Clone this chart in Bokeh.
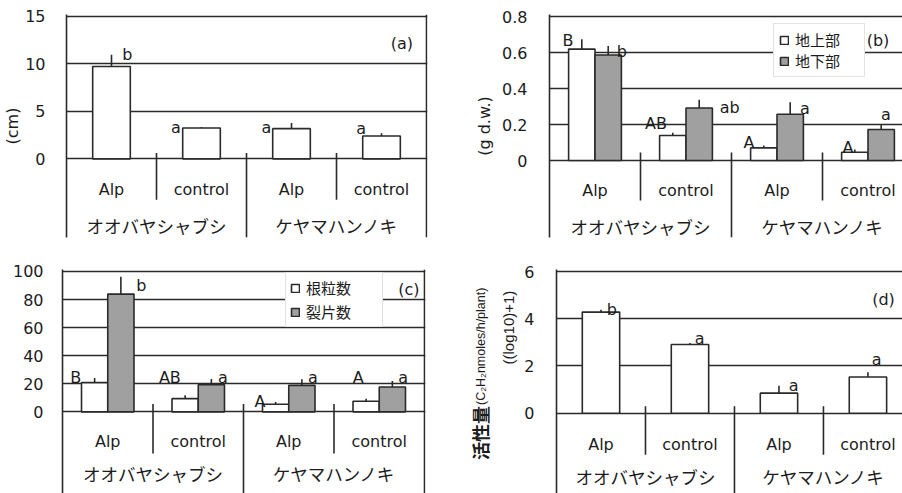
import numpy as np
from bokeh.plotting import figure
from bokeh.layouts import row, column
from bokeh.models import Range1d, FixedTicker, Span, Legend, LegendItem, Label
from bokeh.core.properties import value
from bokeh.embed import file_html
from bokeh.resources import INLINE

# ---------------- data ----------------
species = ["オオバヤシャブシ", "ケヤマハンノキ"]
treatments = ["Alp", "control", "Alp", "control"]

# (a) height (cm)
height_cm = [9.73, 3.25, 3.18, 2.41]
height_err = [1.25, 0.10, 0.60, 0.30]
height_letters = ["b", "a", "a", "a"]
height_ticks = [0, 5, 10, 15]

# (b) dry weight (g d.w.)
dw_series = ["地上部", "地下部"]
dw_shoot = [0.619, 0.139, 0.070, 0.046]
dw_shoot_err = [0.055, 0.015, 0.013, 0.015]
dw_shoot_letters = ["B", "AB", "A", "A"]
dw_root = [0.586, 0.292, 0.257, 0.172]
dw_root_err = [0.050, 0.046, 0.066, 0.030]
dw_root_letters = ["b", "ab", "a", "a"]
dw_ticks = [0, 0.2, 0.4, 0.6, 0.8]

# (c) counts
count_series = ["根粒数", "裂片数"]
nodule_n = [20.8, 9.4, 5.4, 7.6]
nodule_err = [3.3, 2.4, 1.7, 1.8]
nodule_letters = ["B", "AB", "A", "A"]
lobe_n = [83.9, 19.4, 18.9, 17.7]
lobe_err = [12.3, 4.0, 4.3, 4.3]
lobe_letters = ["b", "a", "a", "a"]
count_ticks = [0, 20, 40, 60, 80, 100]

# (d) activity
activity = [4.28, 2.91, 0.85, 1.53]
activity_err = [0.10, 0.06, 0.31, 0.20]
activity_letters = ["b", "a", "a", "a"]
activity_ticks = [0, 2, 4, 6]
activity_label = ["活性量", "(C₂H₂nmoles/h/plant)", "((log10)+1)"]

# ---------------- style / layout ----------------
INK = "#2a2a2a"
TXT = "#1c1c1c"
GRAY = "#a0a0a0"
LW = 1.6
LATIN = "DejaVu Sans"
CJK = "Noto Sans CJK JP"

# panel geometry (pixels inside each figure; ox/oy = figure origin on the page)
PA = dict(ox=0, oy=0, w=455, h=250, fl=62, fr=427, cat=91.0, ymax_px=15, zero=158, fb=237,
          row1=31, row2=66.5, sep_top=6, sep_bot=41, tick_sd=15, lab_sd=0, right_line=True)
PB = dict(ox=455, oy=0, w=447, h=250, fl=94, fr=447, cat=91.0, ymax_px=16, zero=160, fb=237,
          row1=30, row2=66, sep_top=8, sep_bot=40, tick_sd=16, lab_sd=5, right_line=False)
PC = dict(ox=0, oy=250, w=455, h=243, fl=62, fr=425, cat=90.5, ymax_px=20, zero=161, fb=243,
          row1=30, row2=62, sep_top=8, sep_bot=41.7, tick_sd=13, lab_sd=2, right_line=True)
PD = dict(ox=521, oy=250, w=381, h=243, fl=26, fr=381, cat=91.3, ymax_px=21, zero=162.7, fb=243,
          row1=31, row2=63.5, sep_top=7, sep_bot=41.6, tick_sd=16, lab_sd=2, right_line=False)
LABEL_FIG = dict(ox=455, oy=250, w=66, h=243)

NCAT = len(treatments)
cat_x = np.arange(NCAT) + 0.5
group_x = np.array([cat_x[0:2].mean(), cat_x[2:4].mean()])


def make_panel(P, ticks, ylabel=None):
    s = (P["zero"] - P["ymax_px"]) / ticks[-1]
    P["s"] = s
    x_end = (P["fr"] - P["fl"]) / P["cat"]
    y_start = -(P["fb"] - P["zero"]) / s
    y_end = ticks[-1] + 2.0 / s
    p = figure(width=P["w"], height=P["h"], output_backend="svg", toolbar_location=None,
               title=None,
               x_range=Range1d(0, x_end), y_range=Range1d(y_start, y_end),
               x_axis_type=None, min_border=0,
               min_border_left=P["fl"], min_border_right=P["w"] - P["fr"],
               min_border_top=P["ymax_px"] - 2, min_border_bottom=P["h"] - P["fb"],
               outline_line_color=None, background_fill_color="white",
               border_fill_color="white")
    ax = p.yaxis[0]
    ax.ticker = FixedTicker(ticks=ticks)
    ax.axis_line_color = INK
    ax.axis_line_width = LW
    ax.major_tick_line_color = None
    ax.minor_tick_line_color = None
    ax.major_label_text_font = LATIN
    ax.major_label_text_font_size = "16px"
    ax.major_label_text_color = TXT
    ax.major_label_standoff = P["tick_sd"]
    if ylabel:
        ax.axis_label = ylabel
        ax.axis_label_text_font = LATIN
        ax.axis_label_text_font_size = "16px"
        ax.axis_label_text_font_style = "normal"
        ax.axis_label_text_color = TXT
        ax.axis_label_standoff = P["lab_sd"]
    g = p.ygrid[0]
    g.ticker = FixedTicker(ticks=ticks)
    g.grid_line_color = INK
    g.grid_line_width = LW

    # category area below the plot
    p.text(x=cat_x, y=[-P["row1"] / s] * NCAT, text=treatments,
           text_font=value(LATIN), text_font_size=value("16px"), text_color=TXT,
           text_align="center", text_baseline="middle")
    p.text(x=group_x, y=[-P["row2"] / s] * len(species), text=species,
           text_font=value(CJK), text_font_size=value("17.5px"), text_color=TXT,
           text_align="center", text_baseline="middle")
    inner = np.array([1.0, 3.0])
    p.segment(x0=inner, y0=[P["sep_top"] / s] * 2, x1=inner, y1=[-P["sep_bot"] / s] * 2,
              line_color=INK, line_width=LW)
    p.segment(x0=[2.0], y0=[P["sep_top"] / s], x1=[2.0], y1=[y_start],
              line_color=INK, line_width=LW)
    if P["right_line"]:
        p.add_layout(Span(location=NCAT, dimension="height", line_color=INK, line_width=LW))
    return p


def px2data(P, page_x, page_y):
    return ((page_x - P["ox"] - P["fl"]) / P["cat"], (P["oy"] + P["zero"] - page_y) / P["s"])


def bars(p, P, x, vals, errs, width, fill):
    r = p.vbar(x=x, top=vals, width=width, bottom=0, fill_color=fill,
               line_color=INK, line_width=LW)
    tops = np.array(vals) + np.array(errs)
    p.segment(x0=x, y0=vals, x1=x, y1=tops, line_color=INK, line_width=LW)
    return r, tops


def letters(p, P, x_cat, tops, labels, offs):
    xs = [xc + dx / P["cat"] for xc, (dx, dy) in zip(x_cat, offs)]
    ys = [t + dy / P["s"] for t, (dx, dy) in zip(tops, offs)]
    p.text(x=xs, y=ys, text=labels, text_font=value(LATIN), text_font_size=value("16px"),
           text_color=TXT, text_align="center", text_baseline="alphabetic")


def panel_tag(p, P, txt, page_x, page_y):
    x, y = px2data(P, page_x, page_y)
    p.add_layout(Label(x=x, y=y, text=txt, text_font=LATIN, text_font_size="16px",
                       text_color=TXT, text_align="center", text_baseline="middle"))


def legend(items, loc, padding, spacing, label_width):
    return Legend(items=items, location=loc, padding=padding, spacing=spacing, margin=0,
                  label_height=18, label_width=label_width, glyph_width=10, glyph_height=10,
                  label_standoff=6, label_text_font=CJK, label_text_font_size="15px",
                  label_text_color=TXT, border_line_color="#c8c8c8", border_line_width=1,
                  background_fill_color="white", background_fill_alpha=1.0)


# ---------- (a) ----------
pa = make_panel(PA, height_ticks, "(cm)")
_, t = bars(pa, PA, cat_x, height_cm, height_err, 0.418, "white")
letters(pa, PA, cat_x, t, height_letters, [(16, 0), (-26, 0), (-25.5, -5), (-20.5, 4.3)])
panel_tag(pa, PA, "(a)", 401, 42.5)

# ---------- (b) ----------
pb = make_panel(PB, dw_ticks, "(g d.w.)")
off = 0.145
rw, tw = bars(pb, PB, cat_x - off, dw_shoot, dw_shoot_err, 0.29, "white")
rg, tg = bars(pb, PB, cat_x + off, dw_root, dw_root_err, 0.29, GRAY)
letters(pb, PB, cat_x, tw, dw_shoot_letters, [(-27, -1.7), (-30, 9.7), (-28, 3.3), (-20, 2.3)])
letters(pb, PB, cat_x, tg, dw_root_letters, [(26.8, -5), (43.8, -7.7), (27.8, -5.7), (17.8, 9.3)])
panel_tag(pb, PB, "(b)", 877.5, 40)
pb.add_layout(legend([LegendItem(label=dw_series[0], renderers=[rw]),
                      LegendItem(label=dw_series[1], renderers=[rg])], (224, 160), 5, 0, 64))

# ---------- (c) ----------
pc = make_panel(PC, count_ticks)
rn, tn = bars(pc, PC, cat_x - off, nodule_n, nodule_err, 0.29, "white")
rl, tl = bars(pc, PC, cat_x + off, lobe_n, lobe_err, 0.29, GRAY)
letters(pc, PC, cat_x, tn, nodule_letters, [(-32, 1), (-28.4, 18), (-28.75, 0.7), (-21, 21.7)])
letters(pc, PC, cat_x, tl, lobe_letters, [(33.7, -9), (24.75, 2), (24.25, 2.3), (24, 4)])
panel_tag(pc, PC, "(c)", 408.3, 288)
pc.add_layout(legend([LegendItem(label=count_series[0], renderers=[rn]),
                      LegendItem(label=count_series[1], renderers=[rl])], (223, 166), 4, 3, 72))

# ---------- (d) ----------
pd_ = make_panel(PD, activity_ticks)
_, t = bars(pd_, PD, cat_x, activity, activity_err, 0.42, "white")
letters(pd_, PD, cat_x, t, activity_letters, [(11, 0.6), (10, 5), (15, 0.3), (9, 12.7)])
panel_tag(pd_, PD, "(d)", 882.5, 299.3)

# y-axis title of (d): separate narrow figure (pixel coordinates)
L = LABEL_FIG
pl = figure(width=L["w"], height=L["h"], output_backend="svg", toolbar_location=None,
            title=None, x_axis_type=None, y_axis_type=None, min_border=0,
            x_range=Range1d(0, L["w"]), y_range=Range1d(0, L["h"]),
            outline_line_color=None, background_fill_color="white", border_fill_color="white")
lx = lambda page_x: page_x - L["ox"]
ly = lambda page_y: L["oy"] + L["h"] - page_y
pl.text(x=[lx(479.5)], y=[ly(456.7)], text=[activity_label[0]], angle=np.pi / 2,
        text_font=value(CJK), text_font_size=value("18px"), text_font_style="bold",
        text_color=TXT, text_align="left", text_baseline="middle")
pl.text(x=[lx(480.5)], y=[ly(397)], text=[activity_label[1]], angle=np.pi / 2,
        text_font=value("Liberation Sans"), text_font_size=value("12.5px"),
        text_color=TXT, text_align="left", text_baseline="middle")
pl.text(x=[lx(508)], y=[ly(313)], text=[activity_label[2]], angle=np.pi / 2,
        text_font=value("Liberation Sans"), text_font_size=value("15px"),
        text_color=TXT, text_align="center", text_baseline="middle")

layout = column(row(pa, pb), row(pc, pl, pd_))
open("out.html", "w").write(file_html(layout, INLINE))
